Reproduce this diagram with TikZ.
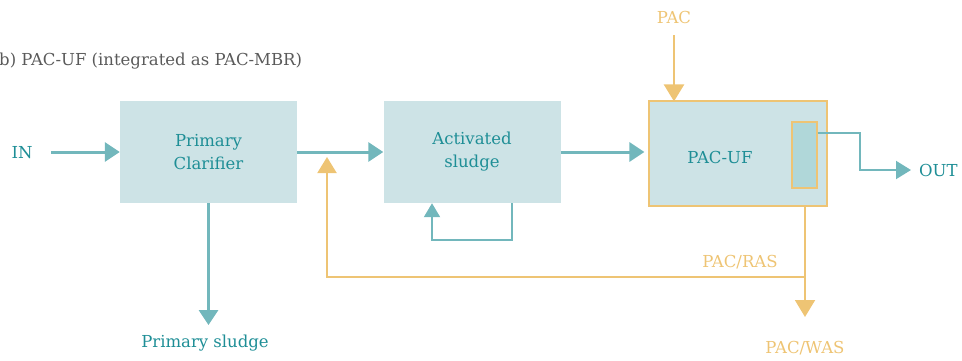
\documentclass[tikz,border=0pt]{standalone}
\usepackage{fontspec}
\setmainfont{DejaVu Serif}
\usetikzlibrary{arrows.meta}
\definecolor{boxfill}{HTML}{CDE3E6}
\definecolor{memfill}{HTML}{B0D7D9}
\definecolor{tealtext}{HTML}{1E8E96}
\definecolor{tealline}{HTML}{72B7BC}
\definecolor{tan}{HTML}{EEC474}
\definecolor{titlegray}{HTML}{5A5A5A}
\begin{document}
\begin{tikzpicture}[x=1pt,y=-1pt,
  box/.style={fill=boxfill,draw=none,minimum width=177pt,minimum height=102pt,inner sep=0pt,
    text=tealtext,font=\fontsize{16.5}{23}\selectfont,align=center},
  ufbox/.style={fill=boxfill,draw=tan,line width=1.2pt,minimum width=178pt,minimum height=105pt,inner sep=0pt},
  membox/.style={fill=memfill,draw=tan,line width=1.2pt,minimum width=25pt,minimum height=66pt,inner sep=0pt},
  lbl/.style={text=tealtext,font=\fontsize{16.5}{20}\selectfont,inner sep=0pt},
  tlbl/.style={text=tan,font=\fontsize{16.5}{20}\selectfont,inner sep=0pt},
  tarrow/.style={draw=tealline,line width=3pt,-{Triangle[length=15pt,width=19pt]}},
  tline/.style={draw=tealline,line width=2pt},
  oline/.style={draw=tan,line width=2pt},
  oarrow/.style={draw=tan,line width=2.5pt,-{Triangle[length=17pt,width=20pt]}}
]
\useasboundingbox (0,0) rectangle (962,360);
\node[anchor=base west,inner sep=0pt,text=titlegray,font=\fontsize{16.5}{20}\selectfont] (title) at (-1,65) {b) PAC-UF (integrated as PAC-MBR)};

\node[box] (pc) at (208.5,152) {Primary\\Clarifier};
\node[box] (as) at (472,152) {Activated\\sludge};
\node[ufbox] (uf) at (738,153.5) {};
\node[lbl] (uft) at (720,157) {PAC-UF};
\node[membox] (mem) at (804.5,155) {};

\node[lbl] (in) at (22,153) {IN};
\node[lbl,anchor=west] (out) at (919,170) {OUT};
\node[tlbl] (pac) at (674,17) {PAC};
\node[tlbl] (was) at (805,348) {PAC/WAS};
\node[tlbl] (ras) at (740,262) {PAC/RAS};
\node[lbl] (ps) at (205,343) {Primary sludge};

% free ends
\coordinate (inS) at (51,152);
\coordinate (psE) at (208.5,325);
\coordinate (pacS) at (674,35);
\coordinate (wasE) at (805,317);
\coordinate (outE) at (911,170);

% main flow
\draw[tarrow] (inS) -- (pc.west);
\draw[tarrow] (pc.east) -- (as.west);
\draw[tarrow] (as.east) -- ([xshift=-4pt]uf.west |- as.east);
\draw[tarrow] (pc.south) -- (psE);

% internal recycle
\coordinate (r1) at (512,240);
\coordinate (r2) at (432,240);
\draw[tline,-{Triangle[length=14pt,width=16pt]}] (as.south -| r1) -- (r1) -- (r2) -- (as.south -| r2);

% out
\coordinate (o1) at (860,133);
\coordinate (o2) at (860,170);
\draw[tline,-{Triangle[length=15pt,width=18pt]}] (mem.east |- o1) -- (o1) -- (o2) -- (outE);

% PAC dose
\draw[oarrow] (pacS) -- ([yshift=-1pt]uf.north -| pacS);

% PAC/WAS & RAS
\coordinate (w1) at (805,277);
\coordinate (c1) at (327,277);
\coordinate (c2) at (327,157);
\draw[oline,-{Triangle[length=17pt,width=20pt]}] (uf.south -| w1) -- (wasE);
\draw[oline,-{Triangle[length=16pt,width=19pt]}] (w1) -- (c1) -- (c2);
\end{tikzpicture}
\end{document}
